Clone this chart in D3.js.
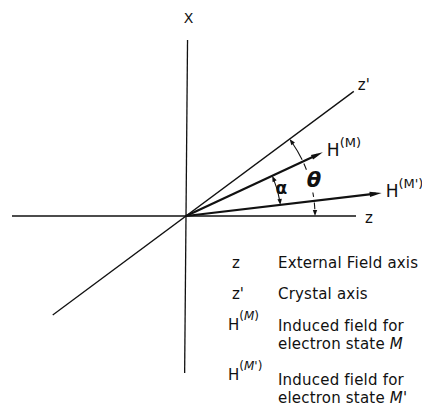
<!DOCTYPE html>
<html>
<head>
<meta charset="utf-8">
<script src="https://cdn.jsdelivr.net/npm/d3@7"></script>
<style>
  body { margin: 0; background: #fff; }
  svg text { font-family: "DejaVu Sans", sans-serif; fill: #111; }
</style>
</head>
<body>
<svg id="chart" width="422" height="406"></svg>
<script>
// Axes of the diagram (angle in degrees, counter-clockwise from +z)
const axisNames = ["X", "z", "z'"];
const axisAngles = [89.5, 0, 36.6];
const axisPlus = [176, 170, 209];   // length on the positive side
const axisMinus = [157, 174, 166];  // length on the negative side

// Induced field vectors
const vectorNames = ["(M)", "(M')"];
const vectorAngles = [25.0, 6.7];
const vectorLengths = [151, 197];

// Angle arcs
const alphaArc = { from: 6.7, to: 25.0, r: 95 };
const thetaSolid = [25.8, 36.6];
const thetaDashes = [[21, 24], [8.5, 10.5], [3, 6]];
const thetaR = 129;

// Legend
const legendSymbols = ["z", "z'", "H", "H"];
const legendSups = ["", "", "M", "M'"];
const legendLines = [
  ["External Field axis"],
  ["Crystal axis"],
  ["Induced field for", "electron state M"],
  ["Induced field for", "electron state M'"]
];

const svg = d3.select("#chart");

// coordinate system, origin where the axes cross
const x = d3.scaleLinear().domain([-174, 236]).range([12, 422]);
const y = d3.scaleLinear().domain([-157, 190]).range([373, 26]);
const rad = d => d * Math.PI / 180;
const pt = (ang, len) => [x(len * Math.cos(rad(ang))), y(len * Math.sin(rad(ang)))];

// filled arrow head: tip point and screen direction
function head(tip, dir, len, hw) {
  const [tx, ty] = tip;
  const ux = Math.cos(dir), uy = Math.sin(dir);
  const bx = tx - ux * len, by = ty - uy * len;
  return `M${tx},${ty}L${bx - uy * hw},${by + ux * hw}L${bx + uy * hw},${by - ux * hw}Z`;
}

// axes
axisAngles.forEach((a, i) => {
  const p1 = pt(a, axisPlus[i]), p0 = pt(a + 180, axisMinus[i]);
  svg.append("line")
    .attr("x1", p0[0]).attr("y1", p0[1])
    .attr("x2", p1[0]).attr("y2", p1[1])
    .attr("stroke", "#111").attr("stroke-width", 1.3);
});

// axis labels
const xl = pt(axisAngles[0], axisPlus[0]);
svg.append("text").attr("x", xl[0] + 1).attr("y", xl[1] - 17)
  .attr("text-anchor", "middle").attr("font-size", 14).text(axisNames[0]);
const zl = pt(axisAngles[1], axisPlus[1]);
svg.append("text").attr("x", zl[0] + 9).attr("y", zl[1] + 7)
  .attr("font-size", 15).text(axisNames[1]);
const zpl = pt(axisAngles[2], axisPlus[2]);
svg.append("text").attr("x", zpl[0] + 4).attr("y", zpl[1] - 1)
  .attr("font-size", 15).text(axisNames[2]);

// vectors
vectorAngles.forEach((a, i) => {
  const tip = pt(a, vectorLengths[i]);
  const dir = -rad(a);
  const o = pt(0, 0);
  svg.append("line")
    .attr("x1", o[0]).attr("y1", o[1])
    .attr("x2", tip[0] - Math.cos(dir) * 6).attr("y2", tip[1] - Math.sin(dir) * 6)
    .attr("stroke", "#111").attr("stroke-width", 2.2);
  svg.append("path").attr("d", head(tip, dir, 12, 2.6)).attr("fill", "#111");
  const t = svg.append("text").attr("x", tip[0] + 4).attr("y", tip[1] + 4)
    .attr("font-size", 17);
  t.append("tspan").text("H");
  t.append("tspan").attr("dy", -9).attr("font-size", 13).text(vectorNames[i]);
});

// arc helper
function arcPath(r, a0, a1) {
  const p = d3.path();
  const s = pt(a0, r);
  p.moveTo(s[0], s[1]);
  p.arc(x(0), y(0), r, -rad(a0), -rad(a1), true);
  return p.toString();
}
// tangent (screen) at angle a, pointing towards larger / smaller angle
const tanUp = a => Math.atan2(-Math.cos(rad(a)), -Math.sin(rad(a)));
const tanDown = a => Math.atan2(Math.cos(rad(a)), Math.sin(rad(a)));

// alpha arc with two heads
svg.append("path")
  .attr("d", arcPath(alphaArc.r, alphaArc.from + 2, alphaArc.to - 2))
  .attr("fill", "none").attr("stroke", "#111").attr("stroke-width", 1.1);
svg.append("path").attr("d", head(pt(alphaArc.to, alphaArc.r), tanUp(alphaArc.to), 6, 2.2)).attr("fill", "#111");
svg.append("path").attr("d", head(pt(alphaArc.from, alphaArc.r), tanDown(alphaArc.from), 6, 2.2)).attr("fill", "#111");
const al = pt((alphaArc.from + alphaArc.to) / 2, alphaArc.r + 4);
svg.append("text").attr("x", al[0]).attr("y", al[1] + 5)
  .attr("text-anchor", "middle").attr("font-size", 17).attr("font-weight", "bold")
  .text("α");

// theta arc
svg.append("path")
  .attr("d", arcPath(thetaR, thetaSolid[0], thetaSolid[1] - 2))
  .attr("fill", "none").attr("stroke", "#111").attr("stroke-width", 1.1);
svg.append("path").attr("d", head(pt(thetaSolid[1], thetaR), tanUp(thetaSolid[1]), 6, 2.2)).attr("fill", "#111");
thetaDashes.forEach(d => {
  svg.append("path").attr("d", arcPath(thetaR, d[0], d[1]))
    .attr("fill", "none").attr("stroke", "#111").attr("stroke-width", 1.1);
});
svg.append("path").attr("d", head(pt(0, thetaR), tanDown(0), 6, 2.2)).attr("fill", "#111");
const tl = pt(16, thetaR + 4);
svg.append("text").attr("x", tl[0]).attr("y", tl[1] + 8)
  .attr("text-anchor", "middle").attr("font-size", 21).attr("font-style", "italic")
  .attr("font-weight", "bold").text("θ");

// legend
const symX = [232, 232, 228, 228];
const symY = [268, 299, 330, 380];
const textY = [268, 299, 331, 385];
legendSymbols.forEach((s, i) => {
  const t = svg.append("text").attr("x", symX[i]).attr("y", symY[i]).attr("font-size", 15);
  t.append("tspan").text(s);
  if (legendSups[i]) {
    t.append("tspan").attr("dy", -10).attr("font-size", 12).text("(");
    t.append("tspan").attr("font-size", 12).attr("font-style", "italic").text(legendSups[i]);
    t.append("tspan").attr("font-size", 12).text(")");
  }
  legendLines[i].forEach((line, j) => {
    const tt = svg.append("text").attr("x", 278).attr("y", textY[i] + j * 18)
      .attr("font-size", 15).attr("letter-spacing", 0.2);
    const m = line.match(/^(.*state )(M'?)$/);
    if (m) {
      tt.append("tspan").text(m[1]);
      tt.append("tspan").attr("font-style", "italic").text(m[2]);
    } else {
      tt.text(line);
    }
  });
});
</script>
</body>
</html>
